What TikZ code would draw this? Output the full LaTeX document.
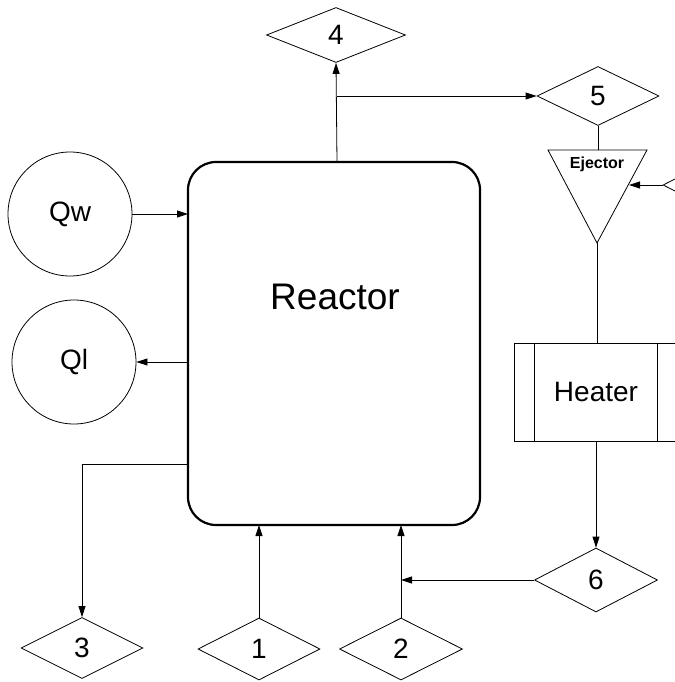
\documentclass[tikz,border=0pt]{standalone}
\usepackage{fontspec}
\setmainfont{Liberation Sans}
\usetikzlibrary{shapes.geometric,arrows.meta}
\tikzset{
  thin line/.style={line width=0.8pt},
  arr/.style={thin line,-{Triangle[length=11pt,width=7pt]}},
  dia/.style={diamond,draw,thin line,inner sep=0pt,font=\fontsize{28}{30}\selectfont},
  circ/.style={circle,draw,thin line,inner sep=0pt,minimum size=124pt,font=\fontsize{28}{30}\selectfont},
}
\begin{document}
\begin{tikzpicture}[x=1pt,y=-1pt]
\useasboundingbox (0,0) rectangle (674,682);
% reactor
\node[draw,line width=2.2pt,rounded corners=28pt,minimum width=292pt,minimum height=363pt,inner sep=0pt] (reactor) at (334,343.5) {};
\node[font=\fontsize{37}{40}\selectfont] (reactorlabel) at (335,297) {Reactor};
% diamonds
\node[dia,minimum width=139pt,minimum height=55pt] (d4) at (336,35) {4};
\node[dia,minimum width=122pt,minimum height=59pt] (d5) at (598,96) {5};
\node[dia,minimum width=122pt,minimum height=61pt] (d3) at (82,648) {3};
\node[dia,minimum width=122pt,minimum height=62pt] (d1) at (259,649) {1};
\node[dia,minimum width=123pt,minimum height=62pt] (d2) at (401,649) {2};
\node[dia,minimum width=123pt,minimum height=64pt] (d6) at (596,580) {6};
\node[dia,minimum width=122pt,minimum height=62pt] (dR) at (724,185) {};
% circles
\node[circ] (qw) at (70,214) {Qw};
\node[circ] (ql) at (74,362) {Ql};
% ejector
\coordinate (ejtl) at (548,150);
\coordinate (ejtr) at (647,150);
\coordinate (ejb) at (597,243);
\coordinate (ejtop) at (598,150);
\coordinate (ejin) at (629,185);
\draw[thin line] (ejtl) -- (ejtr) -- (ejb) -- cycle;
\node[font=\bfseries\fontsize{16}{18}\selectfont] (ejlabel) at (597,164) {Ejector};
% heater
\node[draw,thin line,minimum width=186pt,minimum height=98pt,inner sep=0pt] (heater) at (607,392) {};
\coordinate (hl1t) at (534,343); \coordinate (hl1b) at (534,441);
\coordinate (hl2t) at (657,343); \coordinate (hl2b) at (657,441);
\draw[thin line] (hl1t) -- (hl1b);
\draw[thin line] (hl2t) -- (hl2b);
\node[font=\fontsize{28}{30}\selectfont] (heaterlabel) at (596,392) {Heater};
% connectors
\coordinate (rtop) at (337,162);
\coordinate (j1) at (337,96);
\draw[arr] (rtop) -- (d4.south);
\draw[arr] (j1) -- (d5.west);
\draw[thin line] (d5.south) -- (ejtop);
\draw[arr] (dR.west) -- (ejin);
\coordinate (htop) at (597,343);
\coordinate (hbot) at (596,441);
\draw[thin line] (ejb) -- (htop);
\draw[arr] (hbot) -- (d6.north);
\coordinate (j2) at (401,580);
\draw[arr] (d6.west) -- (j2);
\coordinate (rb2) at (401,525);
\coordinate (rb1) at (259,525);
\draw[arr] (d2.north) -- (rb2);
\draw[arr] (d1.north) -- (rb1);
\coordinate (rl3) at (188,464);
\coordinate (c3) at (82,464);
\draw[arr] (rl3) -- (c3) -- (d3.north);
\coordinate (rlw) at (188,214);
\coordinate (rll) at (188,362);
\draw[arr] (qw.east) -- (rlw);
\draw[arr] (rll) -- (ql.east);
\end{tikzpicture}
\end{document}
